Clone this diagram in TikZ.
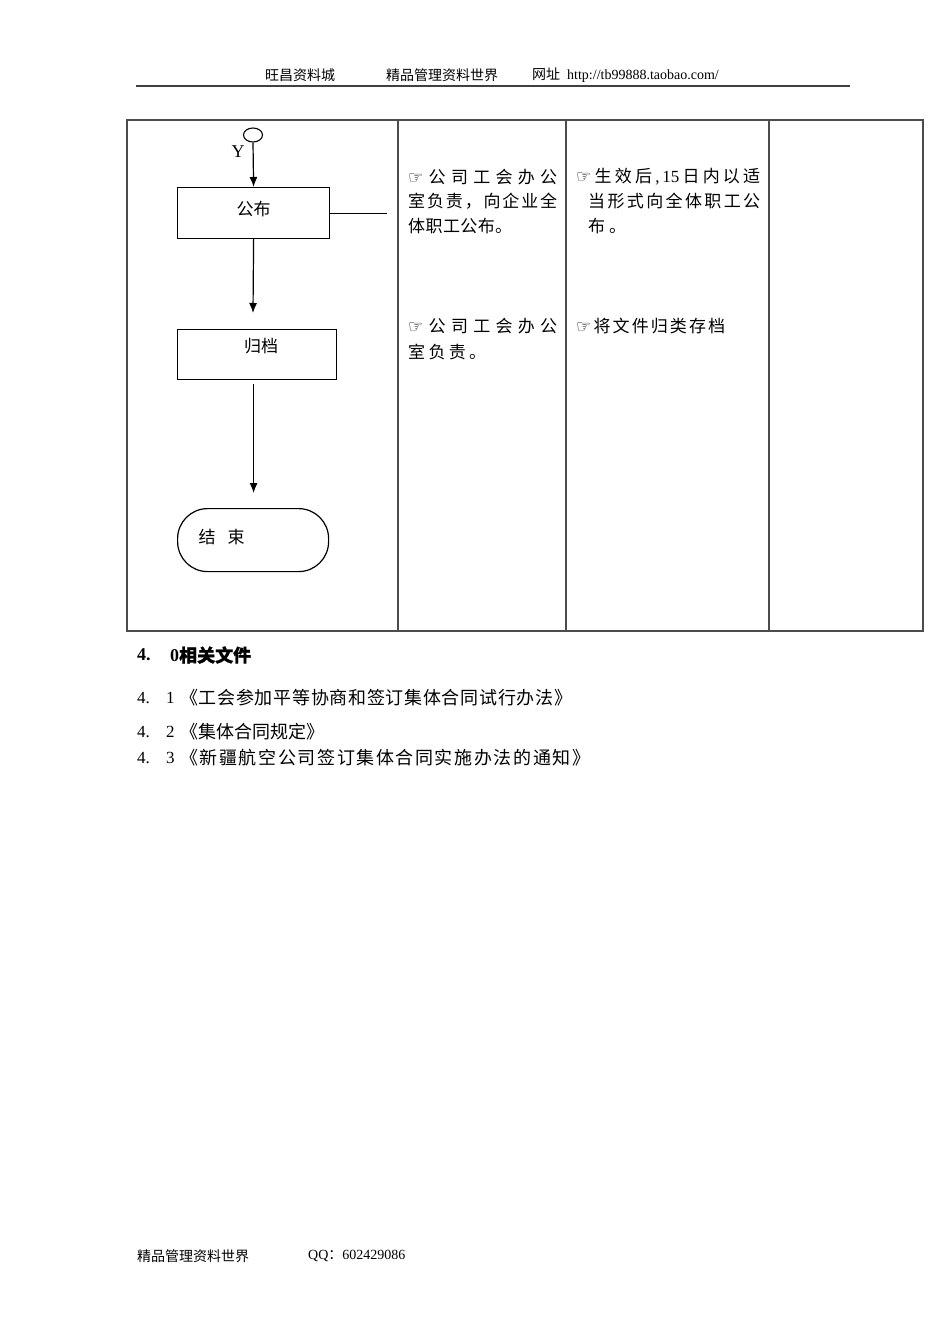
\documentclass[tikz,border=0pt]{standalone}
\usepackage{fontspec}
\setmainfont{Liberation Serif}
\newfontfamily\cjk{Noto Sans CJK SC}
\newfontfamily\cjkb[FakeBold=1]{Noto Sans CJK SC}
\newfontfamily\dejavu{DejaVu Sans}
\usetikzlibrary{arrows.meta,shapes.geometric}
\makeatletter
\def\spr@#1{\ifx#1\relax\else\hfil#1\expandafter\spr@\fi}
\def\spr@first#1{#1\spr@}
\newcommand\spreadto[2]{\makebox[#2pt][s]{\spr@first#1\relax}}
\makeatother
\def\hand{{\dejavu ☞}}
\def\fif{{\rmfamily ,\,15}}
\begin{document}
\begin{tikzpicture}[x=1pt,y=-1pt,
  txt/.style={anchor=west, inner sep=0pt, font=\fontsize{17}{19}\selectfont\cjk},
  hdr/.style={anchor=west, inner sep=0pt, font=\fontsize{14}{16}\selectfont},
  lst/.style={anchor=west, inner sep=0pt, font=\fontsize{17}{20}\selectfont},
  fbox/.style={draw, line width=1.2pt, inner sep=0pt, anchor=north west, font=\fontsize{17}{19}\selectfont\cjk},
  arr/.style={line width=1.2pt, -{Latex[length=10pt,width=8pt]}},
  tab/.style={line width=1.1pt, draw=black!70}]
\useasboundingbox (0,0) rectangle (950,1344);
% header
\node[hdr] (h1) at (265,75) {\cjk 旺昌资料城};
\node[hdr] (h2) at (386,75) {\cjk 精品管理资料世界};
\node[hdr] (h3) at (532,75) {{\cjk 网址}\ \ http://tb99888.taobao.com/};
\coordinate (hl1) at (136,86);
\coordinate (hl2) at (850,86);
\draw[line width=2pt, draw=black!75] (hl1) -- (hl2);
% table
\draw[tab] (127,120) rectangle (923,631);
\draw[tab] (398,120) -- (398,631);
\draw[tab] (566,120) -- (566,631);
\draw[tab] (769,120) -- (769,631);
% flowchart
\node[draw, ellipse, line width=1.1pt, minimum width=19pt, minimum height=14pt, inner sep=0pt] (start) at (253,135) {};
\node[inner sep=0pt, font=\fontsize{18}{19}\selectfont] (ylab) at (238,152) {Y};
\node[fbox, minimum width=152pt, minimum height=51pt] (gongbu) at (177,187) {\raisebox{4pt}[\height][\depth]{公布}};
\node[fbox, minimum width=159pt, minimum height=50pt] (guidang) at (177,329) {\raisebox{9pt}[\height][\depth]{\hspace*{8pt}归档}};
\node[fbox, rounded corners=30pt, minimum width=151pt, minimum height=63pt, text width=109pt, inner xsep=21pt, align=left] (endnode) at (177,508) {\raisebox{3pt}[\height][\depth]{结\hspace{12pt}束}};
\coordinate (side) at (387,213);
\coordinate (a1) at (253,313);
\draw[arr] (start.south) -- (gongbu.north);
\draw[line width=1.2pt] (gongbu.east) -- (side |- gongbu.east);
\draw[arr] (gongbu.south) -- (a1);
\draw[arr] ([yshift=-4pt]guidang.south -| gongbu.south) -- ([yshift=15pt]endnode.north -| gongbu.south);
% column 2
\node[txt] (c2a) at (408,177) {\spreadto{\hand 公司工会办公}{149}};
\node[txt] (c2b) at (408,201) {\spreadto{室负责，向企业全}{149}};
\node[txt] (c2c) at (408,226) {\spreadto{体职工公布。}{104}};
\node[txt] (c2d) at (408,326) {\spreadto{\hand 公司工会办公}{149}};
\node[txt] (c2e) at (408,352) {\spreadto{室负责。}{78}};
% column 3
\node[txt] (c3a) at (576,177) {\spreadto{\hand 生效后\fif 日内以适}{184}};
\node[txt] (c3b) at (588,201) {\spreadto{当形式向全体职工公}{172}};
\node[txt] (c3c) at (588,226) {\spreadto{布。}{38}};
\node[txt] (c3d) at (576,326) {\spreadto{\hand 将文件归类存档}{149}};
% section 4
\node[lst, font=\fontsize{18}{20}\selectfont\bfseries] (s40a) at (137,655) {4.};
\node[lst, font=\fontsize{18}{20}\selectfont\bfseries] (s40b) at (170,655) {0{\cjkb 相关文件}};
\node[lst] (s41a) at (137,698) {4.};
\node[lst] (s41b) at (166,698) {1};
\node[lst, font=\fontsize{18}{20}\selectfont\cjk] (s41c) at (180,698) {\spreadto{《工会参加平等协商和签订集体合同试行办法》}{392}};
\node[lst] (s42a) at (137,732) {4.};
\node[lst] (s42b) at (166,732) {2};
\node[lst, font=\fontsize{18}{20}\selectfont\cjk] (s42c) at (180,732) {\spreadto{《集体合同规定》}{137}};
\node[lst] (s43a) at (137,758) {4.};
\node[lst] (s43b) at (166,758) {3};
\node[lst, font=\fontsize{18}{20}\selectfont\cjk] (s43c) at (180,758) {\spreadto{《新疆航空公司签订集体合同实施办法的通知》}{410}};
% footer
\node[hdr] (f1) at (137,1256) {\cjk 精品管理资料世界};
\node[hdr] (f2) at (308,1256) {QQ{\cjk ：}602429086};
\end{tikzpicture}
\end{document}
